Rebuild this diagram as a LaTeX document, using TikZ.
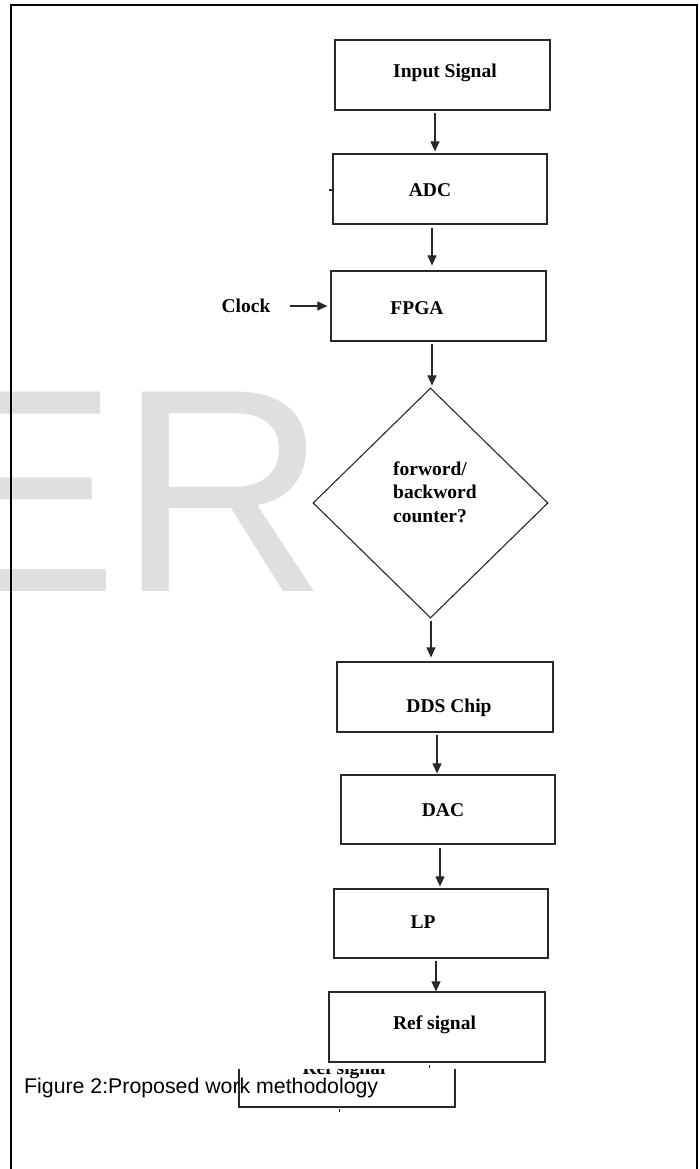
\documentclass[tikz,border=0pt]{standalone}
\usepackage{fontspec}
\setmainfont{Liberation Serif}
\newfontfamily\capfont{Liberation Sans}
\usetikzlibrary{arrows.meta,shapes.geometric}
\definecolor{wmgray}{RGB}{223,223,223}
\definecolor{ln}{RGB}{40,40,40}
\begin{document}
\begin{tikzpicture}[x=1pt,y=-1pt,
  box/.style={draw=ln,line width=1.2pt,rectangle,inner sep=0pt,minimum height=70pt},
  lbl/.style={font=\fontsize{19.5}{23.5}\selectfont\bfseries,inner sep=0pt},
  arr/.style={draw=ln,line width=1.1pt,-{Triangle[length=10pt,width=9pt]}},
  frame/.style={draw=black,line width=2.4pt}]
\useasboundingbox (0,0) rectangle (699,1169);
% watermark
\node[anchor=base west,inner sep=0pt,text=wmgray,font=\capfont\fontsize{290}{290}\selectfont] (wm) at (-75,591) {ER};
% frame
\draw[frame] (11,1172) -- (11,5) -- (697,5) -- (697,1172);
% boxes
\node[box,minimum width=215pt] (inp) at (442.5,75) {};
\node[lbl] (tinp) at (445,73) {Input Signal};
\node[box,minimum width=214pt] (adc) at (440,189) {};
\node[lbl] (tadc) at (430,190) {ADC};
\node[box,minimum width=215pt] (fpga) at (438.5,306) {};
\node[lbl] (tfpga) at (417,308) {FPGA};
\node[lbl] (clock) at (246,306) {Clock};
\node[draw=ln,line width=1.1pt,diamond,inner sep=0pt,minimum width=235pt,minimum height=230pt] (dia) at (430.5,503) {};
\node[lbl,anchor=west,align=left] (tdia) at (393,492) {forword/\\backword\\counter?};
\node[box,minimum width=216pt] (dds) at (445,697) {};
\node[lbl] (tdds) at (449,708) {DDS Chip};
\node[box,minimum width=214pt,minimum height=69pt] (dac) at (448,809.5) {};
\node[lbl] (tdac) at (443,810) {DAC};
\node[box,minimum width=214pt,minimum height=69pt] (lp) at (441,923.5) {};
\node[lbl] (tlp) at (423,922) {LP};
\node[box,minimum width=216pt] (ref) at (437,1027) {};
\node[lbl] (tref) at (434.5,1025) {Ref signal};
% connectors
\draw[arr,shorten <=2pt,shorten >=2pt] ([xshift=-7.5pt]inp.south) -- ([xshift=-5pt]adc.north);
\draw[arr,shorten <=3pt,shorten >=5pt] ([xshift=-8pt]adc.south) -- ([xshift=-6.5pt]fpga.north);
\draw[arr,shorten <=2pt,shorten >=2pt] ([xshift=-6.5pt]fpga.south) -- ([xshift=1.5pt]dia.north);
\draw[arr,shorten <=2pt,shorten >=4pt] ([xshift=0.5pt]dia.south) -- ([xshift=-14pt]dds.north);
\draw[arr,shorten <=2pt,shorten >=1pt] ([xshift=-8pt]dds.south) -- ([xshift=-11pt]dac.north);
\draw[arr,shorten <=3pt,shorten >=2pt] ([xshift=-8pt]dac.south) -- ([xshift=-1pt]lp.north);
\draw[arr,shorten <=2pt,shorten >=0pt] ([xshift=-5pt]lp.south) -- ([xshift=-1pt]ref.north);
\draw[arr,shorten <=19pt,shorten >=3pt] (clock.east) -- (fpga.west |- clock.east);
% small marks
\draw[ln,line width=1.2pt] (329,190) -- (331.5,190);
\draw[ln,line width=1pt] (429,1065) -- (429,1067.5);
\draw[ln,line width=1pt] (339,1109) -- (339,1111.5);
% partly hidden second box
\draw[ln,line width=1.2pt] (239,1069) -- (239,1107) -- (455,1107) -- (455,1069);
\begin{scope}
  \clip (239,1069) rectangle (455,1107);
  \node[lbl,anchor=base] (tref2) at (344,1074) {Ref signal};
\end{scope}
% caption
\node[anchor=base west,inner sep=0pt,font=\capfont\fontsize{21.3}{21.3}\selectfont] (cap) at (24,1093) {Figure 2:Proposed work methodology};
\end{tikzpicture}
\end{document}
